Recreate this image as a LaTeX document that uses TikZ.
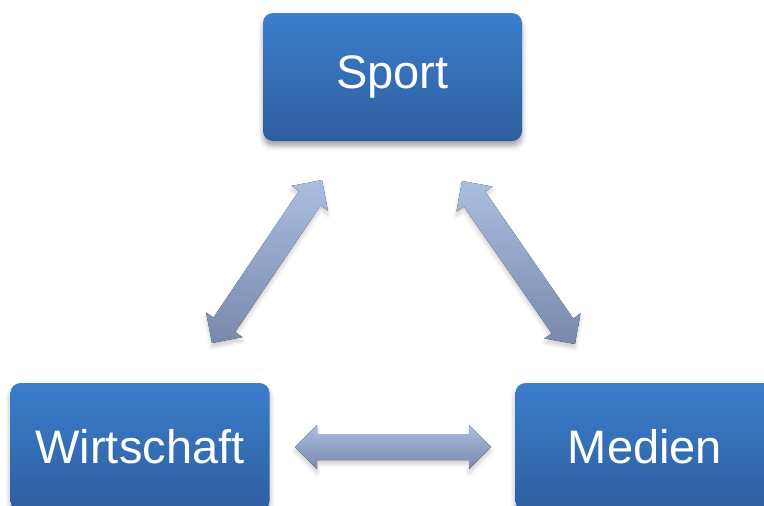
\documentclass[tikz,border=0pt]{standalone}
\usepackage{fontspec}
\setmainfont{Liberation Sans}
\usetikzlibrary{calc,shadows.blur}

\definecolor{boxtop}{RGB}{59,126,204}
\definecolor{boxbottom}{RGB}{46,94,158}
\definecolor{arrtop}{RGB}{170,190,224}
\definecolor{arrbottom}{RGB}{120,137,172}

\tikzset{
  topic/.style={
    rectangle, rounded corners=10pt,
    minimum width=259pt, minimum height=128pt,
    top color=boxtop, bottom color=boxbottom,
    text=white, font=\fontsize{47}{56}\selectfont,
    blur shadow={shadow xshift=0pt, shadow yshift=-5pt,
                 shadow blur radius=5pt, shadow opacity=35}
  },
  blockarrow/.style={
    top color=arrtop, bottom color=arrbottom,
    blur shadow={shadow xshift=0pt, shadow yshift=-4pt,
                 shadow blur radius=4pt, shadow opacity=20}
  }
}

% double-headed block arrow between two named points
% shaft half width 13pt, head half width 22pt, head length 22pt
\newcommand\twowayarrow[2]{%
  \fill[blockarrow]
    (#1)
    -- ($(#1)!22pt!(#2)!22pt!90:(#1)$)
    -- ($(#1)!22pt!(#2)!13pt!90:(#1)$)
    -- ($(#2)!22pt!(#1)!13pt!-90:(#2)$)
    -- ($(#2)!22pt!(#1)!22pt!-90:(#2)$)
    -- (#2)
    -- ($(#2)!22pt!(#1)!22pt!90:(#2)$)
    -- ($(#2)!22pt!(#1)!13pt!90:(#2)$)
    -- ($(#1)!22pt!(#2)!13pt!-90:(#1)$)
    -- ($(#1)!22pt!(#2)!22pt!-90:(#1)$)
    -- cycle;}

\begin{document}
\begin{tikzpicture}[x=1pt,y=-1pt]
  \useasboundingbox (0,0) rectangle (764,506);
  \clip (0,0) rectangle (764,506);

  % the three topics
  \node[topic] (sport)      at (392.5,77)  {Sport};
  \node[topic] (wirtschaft) at (140,447)   {Wirtschaft};
  \node[topic] (medien)     at (645,447)   {Medien};

  % arrow ends
  \coordinate (sw-top)  at (322,180);
  \coordinate (sw-bot)  at (212,343);
  \coordinate (sm-top)  at (462,181);
  \coordinate (sm-bot)  at (575,344);
  \coordinate (wm-left)  at (295,447);
  \coordinate (wm-right) at (491,447);

  \twowayarrow{sw-bot}{sw-top}
  \twowayarrow{sm-top}{sm-bot}
  \twowayarrow{wm-left}{wm-right}
\end{tikzpicture}
\end{document}
